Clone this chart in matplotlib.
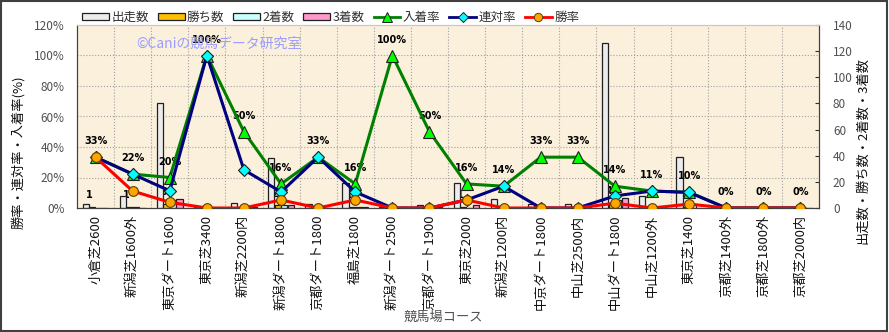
import matplotlib
matplotlib.use("Agg")
import matplotlib.pyplot as plt
import numpy as np
from matplotlib.patches import Rectangle
from matplotlib.lines import Line2D
from matplotlib.patches import Patch

plt.rcParams['font.family'] = ['Noto Sans CJK JP', 'DejaVu Sans']

courses = ["小倉芝2600", "新潟芝1600外", "東京ダート1600", "東京芝3400", "新潟芝2200内",
           "新潟ダート1800", "京都ダート1800", "福島芝1800", "新潟ダート2500", "京都ダート1900",
           "東京芝2000", "新潟芝1200内", "中京ダート1800", "中山芝2500内", "中山ダート1800",
           "中山芝1200外", "東京芝1400", "京都芝1400外", "京都芝1800外", "京都芝2000内"]
starts  = [3, 9, 80, 1, 4, 38, 3, 19, 1, 2, 19, 7, 3, 3, 126, 9, 39, 1, 1, 1]
wins    = [1, 1, 3, 0, 0, 2, 0, 1, 0, 0, 1, 0, 0, 0, 4, 0, 1, 0, 0, 0]
seconds = [0, 1, 6, 1, 1, 2, 1, 1, 0, 0, 0, 1, 0, 0, 6, 1, 3, 0, 0, 0]
thirds  = [0, 0, 7, 0, 1, 2, 0, 1, 1, 1, 2, 0, 1, 1, 8, 0, 0, 0, 0, 0]

starts_a = np.array(starts, float)
wins_a = np.array(wins, float)
sec_a = np.array(seconds, float)
thr_a = np.array(thirds, float)
win_rate = wins_a / starts_a * 100
quinella_rate = (wins_a + sec_a) / starts_a * 100
place_rate = (wins_a + sec_a + thr_a) / starts_a * 100

fig = plt.figure(figsize=(8.89, 3.32), dpi=100)
fig.patch.set_facecolor('white')
ax = fig.add_axes([77/889, 1-208/332, (819-77)/889, (208-25)/332])
ax2 = ax.twinx()

x = np.arange(len(courses))
bw = 0.17
step = 0.175
bar_specs = [(starts_a, '#ececec', '出走数'), (wins_a, '#ffc000', '勝ち数'),
             (sec_a, '#c8ffff', '2着数'), (thr_a, '#ff99cc', '3着数')]

bg = '#fbf0dc'
ax2.set_zorder(ax.get_zorder() - 1)
ax.patch.set_visible(False)
ax2.patch.set_visible(True)
ax2.patch.set_facecolor(bg)

# count bars on the right axis
for k, (vals, col, lab) in enumerate(bar_specs):
    ax2.bar(x + (k - 1.5) * step, vals, width=bw, color=col, edgecolor='#202020',
            linewidth=0.9, zorder=3)

# win count labels, drawn beneath the start bars
for i in range(len(courses)):
    if wins[i] > 0:
        ax2.annotate(str(wins[i]), (x[i] - 0.5 * step, wins[i]), xytext=(-2, 8.5),
                     textcoords='offset points', ha='center', va='center',
                     fontsize=7, fontweight='bold', family='DejaVu Sans', zorder=2)

ax2.set_ylim(0, 140)
ax2.set_yticks(range(0, 141, 20))
ax2.tick_params(axis='y', direction='in', length=3, pad=10, labelsize=8.5,
                labelcolor='#505050', color='#303030')

# rate lines on the left axis
ax.plot(x, place_rate, color='#008000', lw=2.2, marker='^', markersize=8,
        markerfacecolor='#00ff00', markeredgecolor='#202020', markeredgewidth=0.8,
        zorder=5, label='入着率')
ax.plot(x, quinella_rate, color='#000080', lw=2.2, marker='D', markersize=6,
        markerfacecolor='#00ffff', markeredgecolor='#202020', markeredgewidth=0.8,
        zorder=6, label='連対率')
ax.plot(x, win_rate, color='#ff0000', lw=2.2, marker='o', markersize=7,
        markerfacecolor='#ffa500', markeredgecolor='#604000', markeredgewidth=0.8,
        zorder=7, label='勝率')

for i in range(len(courses)):
    ax.annotate(f"{place_rate[i]:.0f}%", (x[i], place_rate[i]), xytext=(0, 11.5),
                textcoords='offset points', ha='center', va='center',
                fontsize=7, fontweight='bold', family='DejaVu Sans', zorder=1)

ax.set_xlim(-0.5, len(courses) - 0.5)
ax2.set_xlim(-0.5, len(courses) - 0.5)
ax.set_ylim(0, 120)
ax.set_yticks(range(0, 121, 20))
ax.set_yticklabels([f"{v}%" for v in range(0, 121, 20)])
ax.tick_params(axis='y', length=0, pad=9, labelsize=8.5, labelcolor='#505050')
ax.set_xticks(x)
ax.set_xticklabels(courses, rotation=90, fontsize=9.5, color='#101010')
ax.tick_params(axis='x', length=0, pad=5)

# grid: horizontal at rate ticks, vertical at category boundaries
for v in range(20, 120, 20):
    ax2.axhline(v * 140 / 120, color='#a0a0a0', lw=0.8, ls=':', zorder=1)
for b in np.arange(0.5, len(courses) - 0.5, 1):
    ax2.axvline(b, color='#a0a0a0', lw=0.8, ls=':', zorder=1)

for a in (ax, ax2):
    a.spines['top'].set_color('#c8c8c8')
    a.spines['left'].set_color('#404040')
    a.spines['bottom'].set_color('#404040')
    a.spines['right'].set_color('#404040')

fig.text(18/889, 1-152/332, "勝率・連対率・入着率(%)", rotation=90, ha='center', va='center',
         fontsize=9.5, color='#101010')
fig.text(863/889, 1-150/332, "出走数・勝ち数・2着数・3着数", rotation=90, ha='center', va='center',
         fontsize=9.5, color='#101010')
fig.text(443/889, 1-317/332, "競馬場コース", ha='center', va='center', fontsize=9.5,
         color='#505050')
fig.text(219/889, 1-44/332, "©Caniの競馬データ研究室", ha='center', va='center',
         fontsize=10, color='#9a9cff', zorder=10)

handles = [Patch(facecolor=c, edgecolor='#202020', linewidth=0.9) for _, c, _ in bar_specs]
handles += [
    Line2D([], [], color='#008000', lw=2, marker='^', markersize=7, markerfacecolor='#00ff00',
           markeredgecolor='#202020', markeredgewidth=0.7),
    Line2D([], [], color='#000080', lw=2, marker='D', markersize=5, markerfacecolor='#00ffff',
           markeredgecolor='#202020', markeredgewidth=0.7),
    Line2D([], [], color='#ff0000', lw=2, marker='o', markersize=6, markerfacecolor='#ffa500',
           markeredgecolor='#604000', markeredgewidth=0.7),
]
labels = [s[2] for s in bar_specs] + ['入着率', '連対率', '勝率']
fig.legend(handles, labels, loc='center left', bbox_to_anchor=(82/889, 1-17/332), ncol=7,
           frameon=False, fontsize=9, handlelength=2.15, handleheight=0.5,
           handletextpad=0.2, columnspacing=0.7, borderpad=0, borderaxespad=0,
           labelcolor='#303030')

fig.add_artist(Rectangle((0.001, 0.002), 0.997, 0.995, transform=fig.transFigure,
                         fill=False, edgecolor='#404040', lw=1.5))

fig.savefig('out.png', dpi=100)
